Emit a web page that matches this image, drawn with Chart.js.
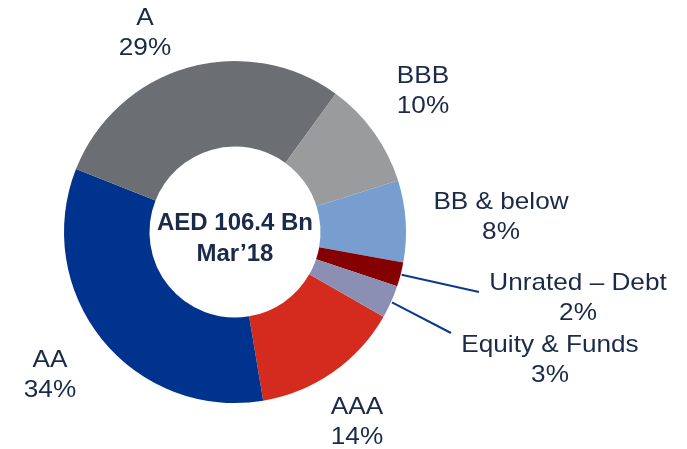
<!DOCTYPE html>
<html>
<head>
<meta charset="utf-8">
<script src="https://cdn.jsdelivr.net/npm/chart.js@4/dist/chart.umd.min.js"></script>
<style>
  html, body { margin: 0; padding: 0; background: #ffffff; }
  #wrap { width: 687px; height: 449px; position: relative; }
</style>
</head>
<body>
<div id="wrap"><canvas id="c" width="687" height="449"></canvas></div>
<script>
// ---- data ----
const categories = ['AAA', 'AA', 'A', 'BBB', 'BB & below', 'Unrated \u2013 Debt', 'Equity & Funds'];
const shares = [14.1, 33.6, 29.0, 10.1, 7.7, 2.3, 3.1];
const centerTitle = 'AED 106.4 Bn';
const centerSubtitle = 'Mar\u201918';

// ---- styling ----
const colors = ['#d52b1f', '#00338d', '#6b6e72', '#9a9b9d', '#789ecf', '#850000', '#8a8fb3'];
const textColor = '#1b2a48';
const leaderColor = '#0b3a8c';
// label anchor: [centre x, first baseline] and optional leader end point
const labelLayout = [
  { x: 357, y: 414 },
  { x: 50,  y: 367 },
  { x: 145, y: 25 },
  { x: 423, y: 83 },
  { x: 501, y: 209 },
  { x: 578, y: 290, leader: [479, 292] },
  { x: 550, y: 352, leader: [451, 333] }
];
const lineGap = 30;
const hScale = 1.09;

const labelPlugin = {
  id: 'labels',
  afterDraw(chart) {
    const ctx = chart.ctx;
    const meta = chart.getDatasetMeta(0);
    const total = shares.reduce((a, b) => a + b, 0);
    ctx.save();
    // leader lines
    meta.data.forEach((arc, i) => {
      const L = labelLayout[i];
      if (!L.leader) return;
      const p = arc.getProps(['x', 'y', 'startAngle', 'endAngle', 'outerRadius'], true);
      const mid = (p.startAngle + p.endAngle) / 2;
      const sx = p.x + Math.cos(mid) * (p.outerRadius + 1);
      const sy = p.y + Math.sin(mid) * (p.outerRadius + 1);
      ctx.beginPath();
      ctx.moveTo(sx, sy);
      ctx.lineTo(L.leader[0], L.leader[1]);
      ctx.strokeStyle = leaderColor;
      ctx.lineWidth = 2;
      ctx.stroke();
    });
    // outer labels
    ctx.fillStyle = textColor;
    ctx.textAlign = 'center';
    ctx.textBaseline = 'alphabetic';
    ctx.font = '24px "Liberation Sans", Arial, sans-serif';
    categories.forEach((name, i) => {
      const L = labelLayout[i];
      const pct = Math.round(shares[i] / total * 100) + '%';
      ctx.save();
      ctx.translate(L.x, L.y);
      ctx.scale(hScale, 1);
      ctx.fillText(name, 0, 0);
      ctx.fillText(pct, 0, lineGap);
      ctx.restore();
    });
    // centre text
    const c = meta.data[0].getProps(['x', 'y'], true);
    ctx.font = 'bold 24px "Liberation Sans", Arial, sans-serif';
    ctx.fillText(centerTitle, c.x, c.y - 2);
    ctx.fillText(centerSubtitle, c.x, c.y + 29);
    ctx.restore();
  }
};

new Chart(document.getElementById('c'), {
  type: 'doughnut',
  data: {
    labels: categories,
    datasets: [{
      data: shares,
      backgroundColor: colors,
      borderWidth: 0,
      hoverOffset: 0
    }]
  },
  options: {
    responsive: false,
    animation: false,
    rotation: 119.7,
    cutout: '50%',
    layout: { padding: { top: 61, bottom: 46, left: 64, right: 281 } },
    plugins: { legend: { display: false }, tooltip: { enabled: false } }
  },
  plugins: [labelPlugin]
});
</script>
</body>
</html>
